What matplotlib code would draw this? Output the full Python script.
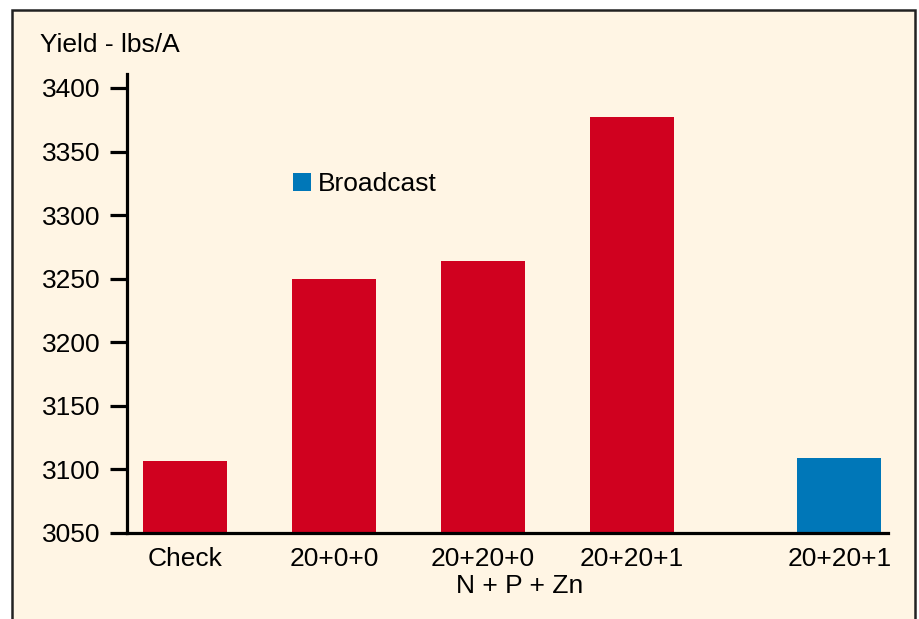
import matplotlib.pyplot as plt
from matplotlib.patches import Rectangle

plt.rcParams['font.family'] = ['Liberation Sans', 'DejaVu Sans']

labels = ['Check', '20+0+0', '20+20+0', '20+20+1']
yields = [3107, 3250, 3264, 3377]
bc_label = '20+20+1'
bc_yield = 3109

red = '#D0011F'
blue = '#0077B8'
cream = '#FFF5E4'

fig = plt.figure(figsize=(9.2, 6.19), dpi=100)
fig.patch.set_facecolor('white')
# framed cream panel, open at the bottom edge
fig.patches.append(Rectangle((12/920, -0.05), 903/920, 1.05 - 10/619,
                             transform=fig.transFigure, facecolor=cream,
                             edgecolor='#222222', linewidth=1.8, zorder=-10))

ax = fig.add_axes([127/920, 1 - 533/619, 761/920, 459/619])
ax.set_facecolor('none')

x = list(range(len(labels)))
bx = 4.393
ax.bar(x, yields, width=0.564, color=red, zorder=2)
ax.bar([bx], [bc_yield], width=0.564, color=blue, label='Broadcast', zorder=2)

ax.set_ylim(3050, 3411)
ax.set_xlim(-0.39, 4.72)
ax.set_yticks([3050, 3100, 3150, 3200, 3250, 3300, 3350, 3400])
ax.set_xticks(x + [bx])
ax.set_xticklabels(labels + [bc_label])

for s in ['top', 'right']:
    ax.spines[s].set_visible(False)
for s in ['left', 'bottom']:
    ax.spines[s].set_linewidth(2.3)
ax.tick_params(axis='y', direction='out', length=12, width=2.3, pad=7, labelsize=19)
ax.tick_params(axis='x', length=0, pad=10, labelsize=19)

ax.set_xlabel('N + P + Zn', fontsize=19)
ax.xaxis.set_label_coords(0.516, -0.09)

fig.text(40/920, 1 - 52/619, 'Yield - lbs/A', fontsize=19, va='baseline')

ax.legend(loc='upper left', bbox_to_anchor=(293/920, 1 - 172/619),
          bbox_transform=fig.transFigure, frameon=False, fontsize=19,
          borderpad=0, borderaxespad=0, handlelength=0.68, handleheight=0.68,
          handletextpad=0.25)

fig.savefig('out.png', dpi=100)
